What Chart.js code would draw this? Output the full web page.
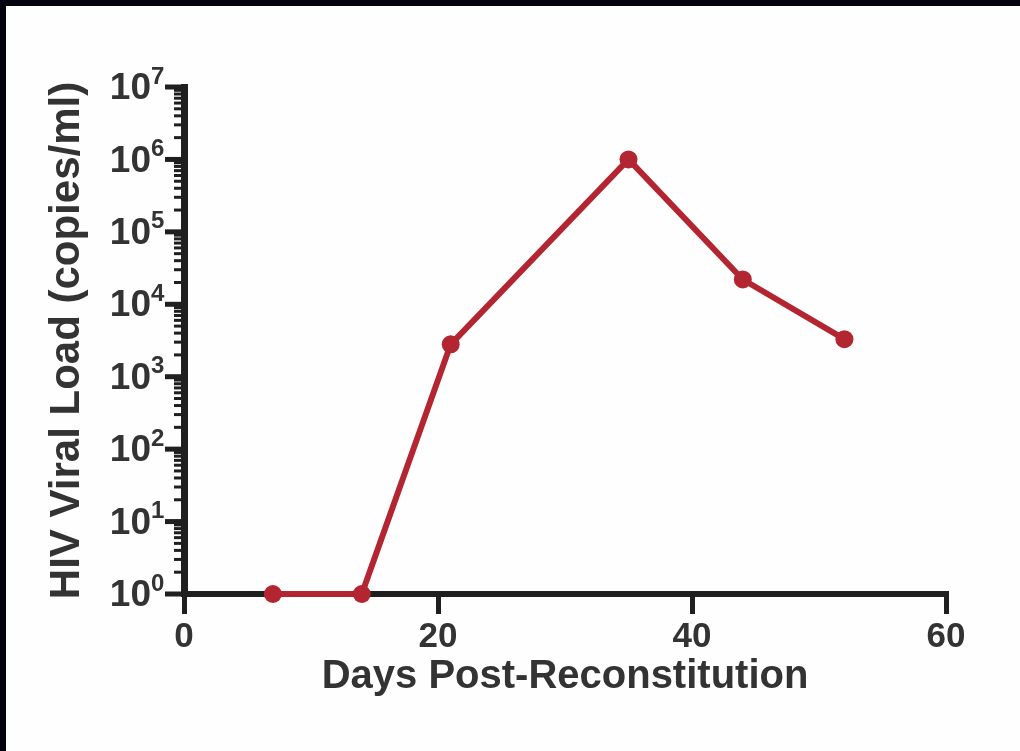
<!DOCTYPE html>
<html>
<head>
<meta charset="utf-8">
<script src="https://cdn.jsdelivr.net/npm/chart.js@4.4.1/dist/chart.umd.min.js"></script>
<style>
  html, body { margin: 0; padding: 0; background: #03020f; overflow: hidden; }
  #frame { position: absolute; left: 6px; top: 6px; width: 1014px; height: 745px; background: #fefefe; }
  canvas { display: block; }
</style>
</head>
<body>
<div id="frame"><canvas id="viralChart" width="1014" height="745"></canvas></div>
<script>
// data
const days = [7, 14, 21, 35, 44, 52];
const viralLoad = [1, 1, 2800, 1000000, 22000, 3300];
const xTicks = [0, 20, 40, 60];
const yExponents = [0, 1, 2, 3, 4, 5, 6, 7];
const minorSteps = [2, 3, 4, 5, 6, 7, 8, 9];

const AXIS = "#1f1f1f";
const TEXT = "#333333";
const RED = "#b32531";
const FONT = '"Liberation Sans", Arial, sans-serif';

// -------------------------------
// y axis ticks + 10^n labels
// -------------------------------
const logAxisPlugin = {
  id: "logAxis",
  beforeDatasetsDraw(chart) {
    const ctx = chart.ctx;
    const yScale = chart.scales.y;
    const left = chart.chartArea.left;
    ctx.save();
    ctx.strokeStyle = AXIS;
    ctx.fillStyle = TEXT;
    yExponents.forEach((e, i) => {
      const base = Math.pow(10, e);
      const py = yScale.getPixelForValue(base);

      ctx.lineWidth = 5;
      ctx.beginPath();
      ctx.moveTo(left - 19, py);
      ctx.lineTo(left, py);
      ctx.stroke();

      if (i < yExponents.length - 1) {
        ctx.lineWidth = 3;
        minorSteps.forEach(m => {
          const my = yScale.getPixelForValue(base * m);
          ctx.beginPath();
          ctx.moveTo(left - 10, my);
          ctx.lineTo(left, my);
          ctx.stroke();
        });
      }

      ctx.font = "bold 37px " + FONT;
      ctx.textAlign = "right";
      ctx.textBaseline = "middle";
      ctx.fillText("10", left - 33, py + 2);
      ctx.font = "bold 24px " + FONT;
      ctx.textAlign = "left";
      ctx.fillText(String(e), left - 33, py - 10);
    });
    ctx.restore();
  }
};

new Chart(document.getElementById("viralChart"), {
  type: "line",
  data: {
    datasets: [{
      data: days.map((d, i) => ({ x: d, y: viralLoad[i] })),
      borderColor: RED,
      backgroundColor: RED,
      borderWidth: 6,
      pointRadius: 9,
      pointBackgroundColor: RED,
      pointBorderWidth: 0,
      tension: 0,
      clip: false
    }]
  },
  options: {
    responsive: false,
    animation: false,
    layout: { padding: { top: 81, right: 74, bottom: 0, left: 0 } },
    plugins: { legend: { display: false }, tooltip: { enabled: false } },
    scales: {
      x: {
        type: "linear",
        min: 0,
        max: 60,
        afterBuildTicks: s => { s.ticks = xTicks.map(v => ({ value: v })); },
        afterFit: s => { s.height = 157; },
        border: { display: true, width: 6, color: AXIS },
        grid: { drawOnChartArea: false, drawTicks: true, tickLength: 20, lineWidth: 5, color: AXIS },
        ticks: { color: TEXT, font: { family: FONT, size: 35, weight: "bold" }, padding: 2, maxRotation: 0 },
        title: {
          display: true,
          text: "Days Post-Reconstitution",
          color: TEXT,
          font: { family: FONT, size: 40, weight: "bold" },
          padding: { top: 0, bottom: 50 }
        }
      },
      y: {
        type: "logarithmic",
        min: 1,
        max: 10000000,
        afterFit: s => { s.width = 178; },
        border: { display: true, width: 7, color: AXIS },
        grid: { display: false },
        ticks: { display: false },
        title: {
          display: true,
          text: "HIV Viral Load (copies/ml)",
          color: TEXT,
          font: { family: FONT, size: 42, weight: "bold" },
          padding: { top: 36, bottom: 0 }
        }
      }
    }
  },
  plugins: [logAxisPlugin]
});
</script>
</body>
</html>
